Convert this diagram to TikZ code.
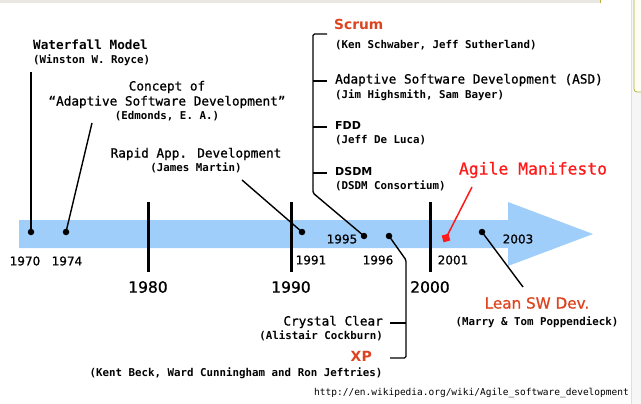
\documentclass[tikz,border=0pt]{standalone}
\usepackage{fontspec}
\setmainfont{DejaVu Sans}
\setmonofont{DejaVu Sans Mono}
\newfontfamily\medsans[FakeBold=0.9]{DejaVu Sans}
\newfontfamily\medmono[FakeBold=0.9]{DejaVu Sans Mono}
\usetikzlibrary{positioning, calc}
\definecolor{bandblue}{HTML}{A0CEFA}
\definecolor{agilered}{HTML}{DC4420}
\definecolor{manired}{HTML}{FF1A1A}
\definecolor{framegray}{HTML}{E9E7E2}
\definecolor{olivebox}{HTML}{B4B43C}
\newcommand{\fs}[1]{\fontsize{#1}{#1}\selectfont}

\begin{document}
\begin{tikzpicture}[
  x=1pt, y=-1pt,
  band/.style={fill=bandblue, draw=none},
  tick/.style={line width=3pt, black},
  lead/.style={line width=1.4pt, black, rounded corners=1.5pt},
  redlead/.style={line width=1.5pt, manired},
  dot/.style={circle, fill=black, inner sep=0pt, minimum size=6.5pt},
  manisq/.style={rectangle, fill=manired, inner sep=0pt, minimum size=7pt, rotate=15},
  title/.style={font=\medmono\fs{12.7}, inner sep=1pt},
  who/.style={font=\ttfamily\bfseries\fs{10.8}, inner sep=1pt},
  method/.style={font=\bfseries\fs{11}, inner sep=1pt},
  yr/.style={font=\medsans\fs{12}, inner sep=1pt},
  decade/.style={font=\medsans\fs{15.5}, inner sep=1pt},
]
  \useasboundingbox (0,0) rectangle (641,404);

  %% Slide frame
  \fill[framegray] (0,0) rectangle (600,3);
  \draw[olivebox, line width=0.8pt] (600,0) -- (600,3);
  \fill[gray!7] (631,0) rectangle (641,404);
  \draw[gray!25, line width=0.6pt] (631,0) -- (631,404);
  \draw[olivebox, line width=0.8pt, fill=yellow!4, rounded corners=3pt]
    (634,-6) rectangle (660,92);

  %% ─── TIME BAND ──────────────────────────────────────────────────────
  \fill[band] (19,220) -- (508,220) -- (508,202) -- (593,234)
    -- (508,266) -- (508,248) -- (19,248) -- cycle;

  % decade ticks
  \foreach \x/\y in {148/1980, 291/1990, 430/2000} {
    \coordinate (t\y a) at (\x,202);
    \coordinate (t\y b) at (\x,272);
    \draw[tick] (t\y a) -- (t\y b);
    \node[decade] (d\y) at (\x,287) {\y};
  }

  % event dots
  \node[dot] (p1970) at (31,232) {};
  \node[dot] (p1974) at (66,232) {};
  \node[dot] (p1991) at (302,232) {};
  \node[dot] (p1995) at (364,236) {};
  \node[dot] (p1996) at (389,236) {};
  \node[dot] (p2003) at (482,232) {};
  \node[manisq] (p2001) at (446,238) {};

  % year labels
  \foreach \x/\yy/\y in {25/261/1970, 67/261/1974, 311/260/1991, 342/239/1995,
                         378/260/1996, 453/260/2001, 518/239/2003} {
    \node[yr] (y\y) at (\x,\yy) {\y};
  }

  %% ─── BEFORE 1995 ────────────────────────────────────────────────────
  \node[title, font=\ttfamily\bfseries\fs{12.7}, anchor=west] (wf) at (32,45) {Waterfall Model};
  \node[who, anchor=west] (wfwho) at (32,60) {(Winston W. Royce)};
  \coordinate (wfend) at (31,72);
  \draw[lead] (wfend) -- (p1970.center);

  \node[title] (asdc) at (167,87) {Concept of};
  \node[title] (asdc2) at (167,102) {“Adaptive Software Development”};
  \node[who] (asdcwho) at (167,116) {(Edmonds, E. A.)};
  \coordinate (asdcend) at (92,123);
  \draw[lead] (asdcend) -- (p1974.center);

  \node[title] (rad) at (196,154) {Rapid App. Development};
  \node[who] (radwho) at (196,168) {(James Martin)};
  \coordinate (radend) at (242,180);
  \draw[lead] (radend) -- (p1991.center);

  %% ─── 1995 GROUP ─────────────────────────────────────────────────────
  \node[method, font=\bfseries\fs{13.8}, text=agilered, anchor=west] (scrum) at (333,24) {Scrum};
  \node[who, anchor=west] (scrumwho) at (334,45) {(Ken Schwaber, Jeff Sutherland)};
  \node[title, anchor=west] (asd) at (334,80) {Adaptive Software Development (ASD)};
  \node[who, anchor=west] (asdwho) at (334,95) {(Jim Highsmith, Sam Bayer)};
  \node[method, anchor=west] (fdd) at (334,125) {FDD};
  \node[who, anchor=west] (fddwho) at (334,140) {(Jeff De Luca)};
  \node[method, anchor=west] (dsdm) at (334,171) {DSDM};
  \node[who, anchor=west] (dsdmwho) at (334,186) {(DSDM Consortium)};

  \coordinate (b95top) at (327,34);
  \coordinate (b95low) at (313,193);
  \draw[lead] (b95top) -- (313,34) -- (b95low) -- (p1995.center);
  \foreach \yy in {81, 127, 173} {
    \coordinate (b95s\yy) at (313,\yy);
    \coordinate (b95e\yy) at (327,\yy);
    \draw[lead] (b95s\yy) -- (b95e\yy);
  }

  %% ─── 1996 GROUP ─────────────────────────────────────────────────────
  \node[title, anchor=east] (cc) at (384,322) {Crystal Clear};
  \node[who, anchor=east] (ccwho) at (384,336) {(Alistair Cockburn)};
  \node[method, font=\bfseries\fs{14}, text=agilered, anchor=east] (xp) at (373,356) {XP};
  \node[who] (xpwho) at (236,373) {(Kent Beck, Ward Cunningham and Ron Jeftries)};

  \coordinate (b96knee) at (406,260);
  \coordinate (b96xp) at (390,358);
  \coordinate (b96cc) at (390,323);
  \draw[lead] (p1996.center) -- (b96knee) -- (406,358) -- (b96xp);
  \draw[lead] (406,323) -- (b96cc);

  %% ─── 2001 / 2003 ────────────────────────────────────────────────────
  \node[title, font=\medmono\fs{16.4}, text=manired] (mani) at (533,170) {Agile Manifesto};
  \coordinate (maniend) at (472,187);
  \draw[redlead] (maniend) -- (p2001.center);

  \node[font=\medsans\fs{15.2}, text=agilered, inner sep=1pt] (lean) at (537,303) {Lean SW Dev.};
  \node[who] (leanwho) at (537,322) {(Marry \& Tom Poppendieck)};
  \coordinate (leanend) at (523,287);
  \draw[lead] (p2003.center) -- (leanend);

  %% ─── SOURCE ─────────────────────────────────────────────────────────
  \node[font=\ttfamily\fs{9.5}, anchor=east, inner sep=1pt] (src) at (630,393)
    {http://en.wikipedia.org/wiki/Agile\_software\_development};
\end{tikzpicture}
\end{document}
